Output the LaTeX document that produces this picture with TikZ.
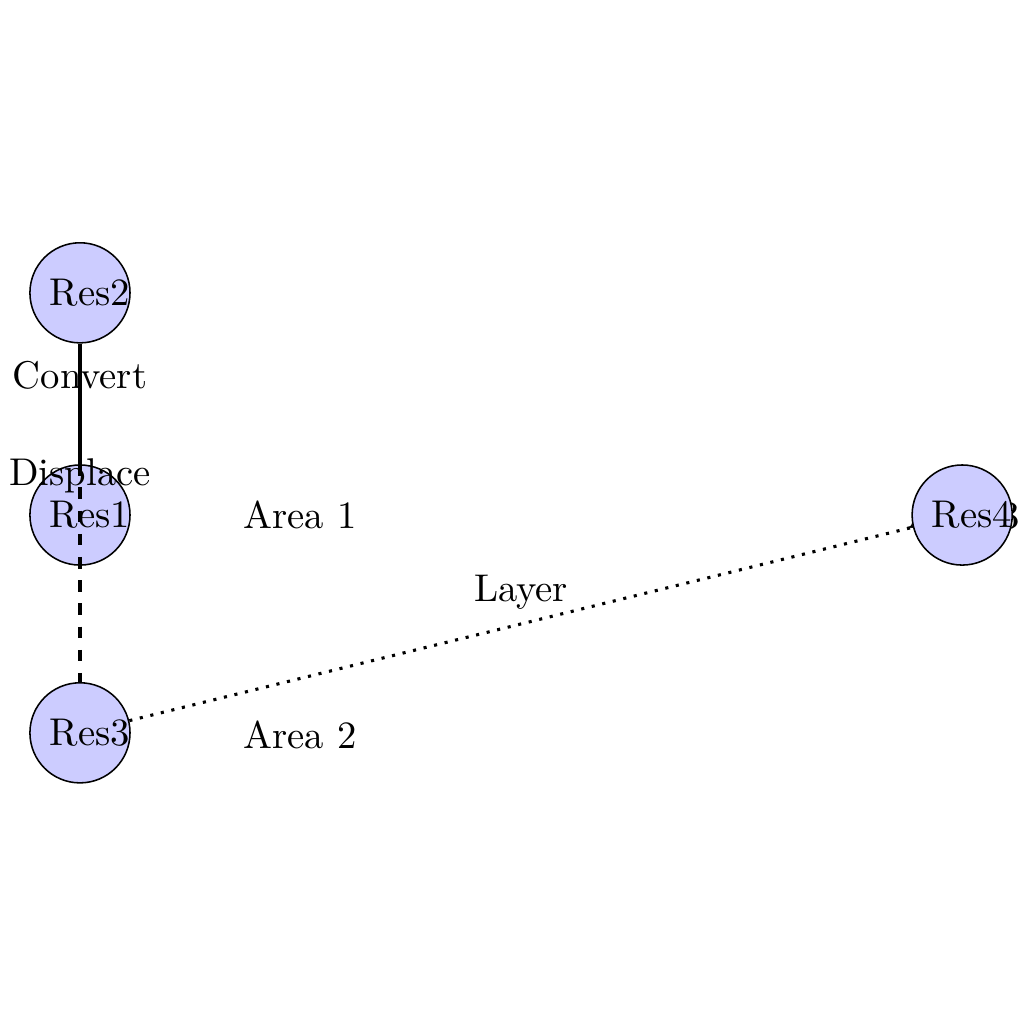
\documentclass[tikz,border=0pt]{standalone}
\usepackage{tikz}
\usetikzlibrary{arrows.meta,positioning,calc}
\tikzset{
  res/.style={draw, circle, fill=blue!20, inner sep=0pt, minimum size=9.1mm,
    label={[xshift=0.9mm, inner sep=0pt]center:#1}},
  lbl/.style={inner sep=3pt},
}

\begin{document}
\begin{tikzpicture}[
  conn/.style={thick},
  displ/.style={thick, dashed},
  lay/.style={thick, dotted}]
  \useasboundingbox (-0.727,-4.627) rectangle (8.582,4.682);
  \node[lbl] (area3) at (8.03,0) {Area 3};
  \foreach \y/\n in {2.02/2, 0/1, -1.98/3} {
    \node[res=Res\n] (res\n) at (0,\y) {};
  }
  \node[res=Res4] (res4) at (8.02,0) {};
  \node[lbl] (area1) at (2,0) {Area 1};
  \node[lbl] (area2) at (2,-2) {Area 2};
  \draw[conn] (res2) -- node[above]{Convert} (res1);
  \draw[displ] (res1.north) -- node[pos=0.2, above]{Displace} (res3.north);
  \draw[lay] (res3) -- node[above]{Layer} (res4);
\end{tikzpicture}
\end{document}
